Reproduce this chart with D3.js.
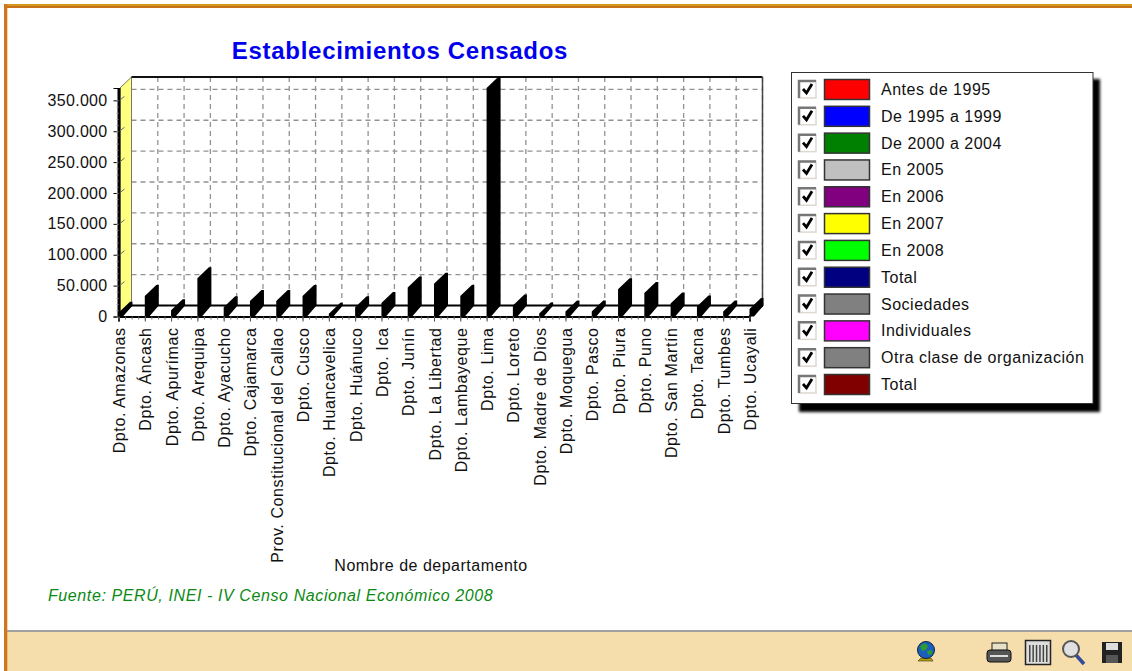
<!DOCTYPE html>
<html>
<head>
<meta charset="utf-8">
<script src="https://cdn.jsdelivr.net/npm/d3@7"></script>
<style>
    html, body { margin: 0; padding: 0; background: #fff; overflow: hidden; }
    text { font-family: "Liberation Sans", Arial, sans-serif; fill: #111; }
</style>
</head>
<body>
<svg id="chart" width="1132" height="671"></svg>
<script>
const departments = ["Dpto. Amazonas", "Dpto. Áncash", "Dpto. Apurímac", "Dpto. Arequipa", "Dpto. Ayacucho",
    "Dpto. Cajamarca", "Prov. Constitucional del Callao", "Dpto. Cusco", "Dpto. Huancavelica", "Dpto. Huánuco",
    "Dpto. Ica", "Dpto. Junín", "Dpto. La Libertad", "Dpto. Lambayeque", "Dpto. Lima", "Dpto. Loreto",
    "Dpto. Madre de Dios", "Dpto. Moquegua", "Dpto. Pasco", "Dpto. Piura", "Dpto. Puno", "Dpto. San Martín",
    "Dpto. Tacna", "Dpto. Tumbes", "Dpto. Ucayali"];
const establishments = [6000, 33000, 10000, 62000, 15000, 25000, 25000, 33000, 4500, 15000, 22000, 47000, 53000,
    33000, 370000, 18000, 5000, 8000, 8000, 44000, 38000, 21000, 16000, 8000, 12000];
const sideWallValue = 370000;
const yTicks = [0, 50000, 100000, 150000, 200000, 250000, 300000, 350000];
const legendNames = ["Antes de 1995", "De 1995 a 1999", "De 2000 a 2004", "En 2005", "En 2006", "En 2007", "En 2008",
    "Total", "Sociedades", "Individuales", "Otra clase de organización", "Total"];
const legendColors = ["#ff0000", "#0000ff", "#008000", "#c0c0c0", "#800080", "#ffff00", "#00ff00", "#000080",
    "#808080", "#ff00ff", "#808080", "#800000"];

const svg = d3.select("#chart");
const depthX = 13, depthY = 11;
const left = 118.5, right = 749.5, floorY = 316.5, topY = 88;

// page frame
svg.append("rect").attr("x", 4).attr("y", 4).attr("width", 1128).attr("height", 2).attr("fill", "#d09a20");
svg.append("rect").attr("x", 4).attr("y", 6).attr("width", 1128).attr("height", 2).attr("fill", "#c8701a");
svg.append("rect").attr("x", 7).attr("y", 632).attr("width", 1125).attr("height", 39).attr("fill", "#f5deab");
svg.append("rect").attr("x", 4).attr("y", 4).attr("width", 3.3).attr("height", 667).attr("fill", "#d2761e");
svg.append("line").attr("x1", 7).attr("x2", 1132).attr("y1", 631).attr("y2", 631).attr("stroke", "#a0a0a0").attr("stroke-width", 2);

let xScale = d3.scalePoint().domain(departments).range([left, right]);
let xIndex = d3.scaleLinear().domain([0, departments.length - 1]).range([left, right]);
let yScale = d3.scaleLinear().domain([0, sideWallValue]).range([floorY, topY]);

// back wall grid
let grid = svg.append("g")
    .attr("fill", "none")
    .attr("stroke", "#929292")
    .attr("stroke-width", 1.3)
    .attr("stroke-dasharray", "5,4");

grid.selectAll("line.h")
    .data(yTicks.slice(1))
    .join("line")
    .attr("x1", left + depthX)
    .attr("x2", right + depthX)
    .attr("y1", d => yScale(d) - depthY)
    .attr("y2", d => yScale(d) - depthY);

grid.selectAll("line.v")
    .data(departments.slice(1))
    .join("line")
    .attr("x1", d => xScale(d) + depthX)
    .attr("x2", d => xScale(d) + depthX)
    .attr("y1", yScale(sideWallValue) - depthY)
    .attr("y2", floorY - depthY);

// left wall
let wallPath = d3.line()([
    [left + 1.5, yScale(sideWallValue)],
    [left + depthX, yScale(sideWallValue) - depthY],
    [left + depthX, floorY - depthY],
    [left + 1.5, floorY]
]) + "Z";
svg.append("path").attr("d", wallPath).attr("fill", "#ffff80").attr("stroke", "#555").attr("stroke-width", 0.8);
svg.append("rect")
    .attr("x", left - 1)
    .attr("y", yScale(sideWallValue))
    .attr("width", 3)
    .attr("height", floorY - yScale(sideWallValue))
    .attr("fill", "#000");

svg.append("g")
    .selectAll("line")
    .data(yTicks.slice(1))
    .join("line")
    .attr("x1", left + 1)
    .attr("x2", left + 6)
    .attr("y1", d => yScale(d))
    .attr("y2", d => yScale(d) - 4)
    .attr("stroke", "#666");

// frame of the box
svg.append("line")
    .attr("x1", left + depthX).attr("x2", right + depthX)
    .attr("y1", yScale(sideWallValue) - depthY).attr("y2", yScale(sideWallValue) - depthY)
    .attr("stroke", "#111").attr("stroke-width", 2);
svg.append("line")
    .attr("x1", right + depthX).attr("x2", right + depthX)
    .attr("y1", yScale(sideWallValue) - depthY).attr("y2", floorY - depthY)
    .attr("stroke", "#444").attr("stroke-width", 1.5);

// floor
svg.append("line")
    .attr("x1", left + depthX).attr("x2", right + depthX)
    .attr("y1", floorY - depthY).attr("y2", floorY - depthY)
    .attr("stroke", "#000").attr("stroke-width", 2);
svg.append("line")
    .attr("x1", left + depthX).attr("x2", left)
    .attr("y1", floorY - depthY).attr("y2", floorY)
    .attr("stroke", "#000").attr("stroke-width", 2);
svg.append("line")
    .attr("x1", right + depthX).attr("x2", right)
    .attr("y1", floorY - depthY).attr("y2", floorY)
    .attr("stroke", "#000").attr("stroke-width", 2);

// the bars, all black
function barPath(name, value) {
    let x = xScale(name);
    let top = yScale(value);
    return d3.line()([
        [x, floorY],
        [x, top],
        [x + depthX - 1.5, top - depthY],
        [x + depthX + 1, top - depthY],
        [x + depthX + 1, floorY - depthY],
        [x + 4.5, floorY]
    ]) + "Z";
}

svg.append("g")
    .selectAll("path")
    .data(departments)
    .join("path")
    .attr("d", (d, i) => barPath(d, establishments[i]))
    .attr("fill", "#000");

// axes
const thousands = d3.formatLocale({ decimal: ",", thousands: ".", grouping: [3], currency: ["", ""] }).format(",");

let yAxis = d3.axisLeft(yScale).tickValues(yTicks).tickFormat(thousands).tickSize(5).tickPadding(6);
let yAxisG = svg.append("g")
    .attr("transform", `translate(${left}, 0)`)
    .call(yAxis);
yAxisG.selectAll("text")
    .attr("font-size", "16px")
    .attr("font-family", "Liberation Sans")
    .attr("letter-spacing", "0.3px")
    .style("fill", "#111");
yAxisG.select(".domain").attr("stroke", "#000").attr("stroke-width", 1);

let yMinor = svg.append("g")
    .attr("transform", `translate(${left}, 0)`)
    .call(d3.axisLeft(yScale).tickValues(d3.range(0, 360000, 10000)).tickFormat("").tickSize(2));
yMinor.select(".domain").remove();
yMinor.selectAll("line").attr("stroke", "#999");

let xAxis = d3.axisBottom(xScale).tickSize(5).tickPadding(8);
let xAxisG = svg.append("g")
    .attr("transform", `translate(0, ${floorY})`)
    .call(xAxis);
xAxisG.select(".domain").attr("stroke", "#000").attr("stroke-width", 2);
xAxisG.selectAll("line").attr("stroke", "#444");
xAxisG.selectAll("text")
    .attr("font-size", "16px")
    .attr("font-family", "Liberation Sans")
    .attr("letter-spacing", "0.6px")
    .style("fill", "#111")
    .attr("text-anchor", "end")
    .attr("dx", 0)
    .attr("dy", 0)
    .attr("transform", "translate(6, 11) rotate(-90)")
    .attr("y", 0)
    .attr("x", 0);

let xMinor = svg.append("g")
    .attr("transform", `translate(0, ${floorY})`)
    .call(d3.axisBottom(xIndex).tickValues(d3.range(0, 24.01, 0.25)).tickFormat("").tickSize(3));
xMinor.select(".domain").remove();
xMinor.selectAll("line").attr("stroke", "#666");

// titles
svg.append("text")
    .attr("x", 400).attr("y", 59)
    .attr("text-anchor", "middle")
    .attr("font-size", "24px")
    .attr("font-weight", "bold")
    .attr("letter-spacing", "0.7px")
    .style("fill", "#0000ee")
    .text("Establecimientos Censados");

svg.append("text")
    .attr("x", 431).attr("y", 571)
    .attr("text-anchor", "middle")
    .attr("font-size", "16px")
    .attr("letter-spacing", "0.5px")
    .text("Nombre de departamento");

svg.append("text")
    .attr("x", 48).attr("y", 601)
    .attr("font-size", "16px")
    .attr("font-style", "italic")
    .attr("letter-spacing", "0.6px")
    .style("fill", "#0a8a12")
    .text("Fuente: PERÚ, INEI - IV Censo Nacional Económico 2008");

// legend
let defs = svg.append("defs");
defs.append("filter").attr("id", "soft").append("feGaussianBlur").attr("stdDeviation", 1.5);

svg.append("rect")
    .attr("x", 799).attr("y", 79).attr("width", 301).attr("height", 333)
    .attr("fill", "#000").attr("filter", "url(#soft)");
svg.append("rect")
    .attr("x", 791.5).attr("y", 72.5).attr("width", 301.5).attr("height", 331)
    .attr("fill", "#fff").attr("stroke", "#333").attr("stroke-width", 1);

let rowY = d3.scalePoint().domain(d3.range(legendNames.length)).range([89, 384]);
let rows = svg.append("g")
    .selectAll("g")
    .data(legendNames)
    .join("g")
    .attr("transform", (d, i) => `translate(0, ${rowY(i)})`);

rows.append("rect")
    .attr("x", 799).attr("y", -8).attr("width", 17).attr("height", 17)
    .attr("fill", "#fff").attr("stroke", "#ddd8d0").attr("stroke-width", 1.5);
rows.append("path")
    .attr("d", "M799,9 V-8 H816")
    .attr("fill", "none").attr("stroke", "#777").attr("stroke-width", 2.5);
rows.append("path")
    .attr("d", "M803,0 L806.5,4 L812,-5")
    .attr("fill", "none").attr("stroke", "#000").attr("stroke-width", 2.8);
rows.append("rect")
    .attr("x", 824.5).attr("y", -9.5).attr("width", 45).attr("height", 20)
    .attr("fill", (d, i) => legendColors[i])
    .attr("stroke", "#333").attr("stroke-width", 1.5);
rows.append("text")
    .attr("x", 881).attr("y", 6)
    .attr("font-size", "16px")
    .attr("letter-spacing", "0.5px")
    .text(d => d);

// toolbar icons
let icons = svg.append("g");

// globe
icons.append("path").attr("d", "M918,661 h15 l-2,-3 h-10 z").attr("fill", "#b8a000").attr("stroke", "#333").attr("stroke-width", 0.6);
icons.append("rect").attr("x", 923).attr("y", 654).attr("width", 4).attr("height", 4).attr("fill", "#a89000");
icons.append("circle").attr("cx", 926).attr("cy", 650).attr("r", 8.5).attr("fill", "#1a5fc0").attr("stroke", "#123").attr("stroke-width", 1);
icons.append("path").attr("d", "M920,646 l5,-3 l3,3 l-2,4 l-4,1 z M927,651 l5,-1 l0,4 l-4,1 z").attr("fill", "#2e9a30");

// printer
icons.append("rect").attr("x", 992).attr("y", 643).attr("width", 15).attr("height", 8).attr("fill", "#e8e0c8").attr("stroke", "#222");
icons.append("rect").attr("x", 987).attr("y", 650).attr("width", 24).attr("height", 12).attr("rx", 3).attr("fill", "#555").attr("stroke", "#111");
icons.append("rect").attr("x", 990).attr("y", 655).attr("width", 18).attr("height", 2).attr("fill", "#ddd");

// calculator-like grid
icons.append("rect").attr("x", 1025.5).attr("y", 640.5).attr("width", 25).attr("height", 24).attr("fill", "#ddd").attr("stroke", "#222").attr("stroke-width", 1.5);
icons.append("g")
    .selectAll("rect")
    .data(d3.range(6))
    .join("rect")
    .attr("x", d => 1029 + d * 3.4).attr("y", 645).attr("width", 1.5).attr("height", 17).attr("fill", "#444");

// magnifier
icons.append("line").attr("x1", 1076).attr("y1", 655).attr("x2", 1084).attr("y2", 664).attr("stroke", "#334a9a").attr("stroke-width", 3.5);
icons.append("circle").attr("cx", 1071).attr("cy", 649).attr("r", 8).attr("fill", "#e0e0e0").attr("stroke", "#555").attr("stroke-width", 2);

// floppy
icons.append("rect").attr("x", 1102).attr("y", 642).attr("width", 20).attr("height", 21).attr("fill", "#222");
icons.append("rect").attr("x", 1106).attr("y", 643).attr("width", 12).attr("height", 7).attr("fill", "#ddd");
icons.append("rect").attr("x", 1106).attr("y", 655).attr("width", 12).attr("height", 8).attr("fill", "#555");
</script>
</body>
</html>
